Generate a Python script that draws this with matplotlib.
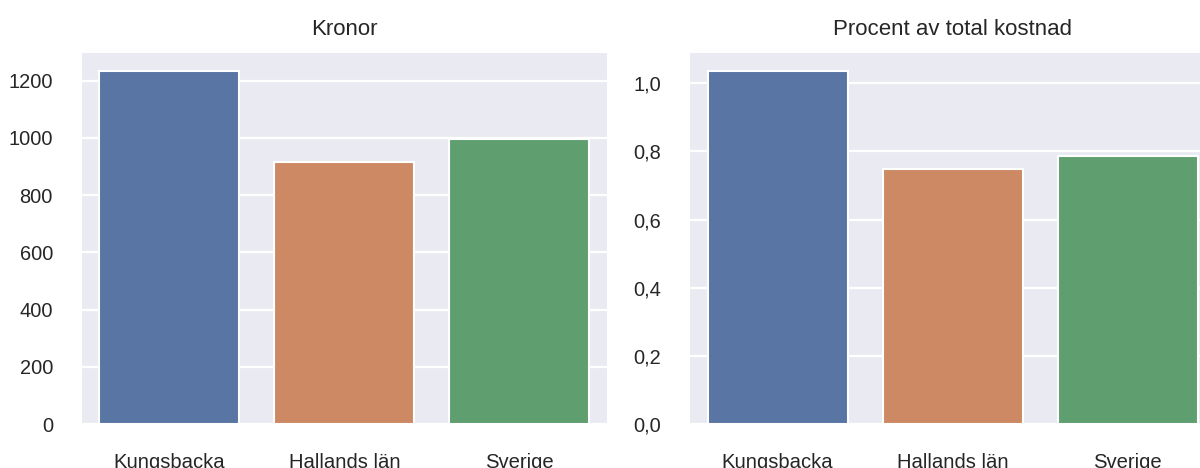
import matplotlib
matplotlib.use("Agg")
import matplotlib.pyplot as plt
from matplotlib.ticker import FuncFormatter, MultipleLocator
import seaborn as sns

# Data
regions = ["Kungsbacka", "Hallands län", "Sverige"]
kronor = [1235, 917, 997]
procent = [1.037, 0.748, 0.787]
titles = ["Kronor", "Procent av total kostnad"]

# seaborn "deep" palette, desaturated like barplot does
colors = ["#5975A4", "#CC8963", "#5F9E6E"]

sns.set_style("darkgrid")
plt.rcParams["font.family"] = ["Liberation Sans", "DejaVu Sans"]

fig = plt.figure(figsize=(12, 4.68), dpi=100)
ax1 = fig.add_axes([0.0683, 0.094, 0.4375, 0.7927])
ax2 = fig.add_axes([0.575, 0.094, 0.4375, 0.7927])

for ax, values, title in [(ax1, kronor, titles[0]), (ax2, procent, titles[1])]:
    x = range(len(regions))
    ax.bar(x, values, width=0.8, color=colors, edgecolor="white", linewidth=1.5, zorder=2)
    ax.set_xlim(-0.5, len(regions) - 0.5)
    ax.set_ylim(0, max(values) * 1.05)
    ax.set_xticks(list(x))
    ax.set_xticklabels(regions)
    ax.set_title(title, fontsize=16, color="#262626", pad=13)
    ax.tick_params(axis="x", length=0, pad=21, labelsize=14.6, labelcolor="#262626")
    ax.tick_params(axis="y", length=0, pad=20.9, labelsize=14.4, labelcolor="#262626")
    ax.grid(False, axis="x")
    ax.grid(True, axis="y", color="white", linewidth=1.6)
    ax.set_axisbelow(True)
    for s in ax.spines.values():
        s.set_visible(False)

ax1.yaxis.set_major_locator(MultipleLocator(200))
ax1.yaxis.set_major_formatter(FuncFormatter(lambda v, p: f"{v:.0f}"))
ax2.yaxis.set_major_locator(MultipleLocator(0.2))
ax2.yaxis.set_major_formatter(FuncFormatter(lambda v, p: f"{v:.1f}".replace(".", ",")))

fig.savefig("out.png", dpi=100)
